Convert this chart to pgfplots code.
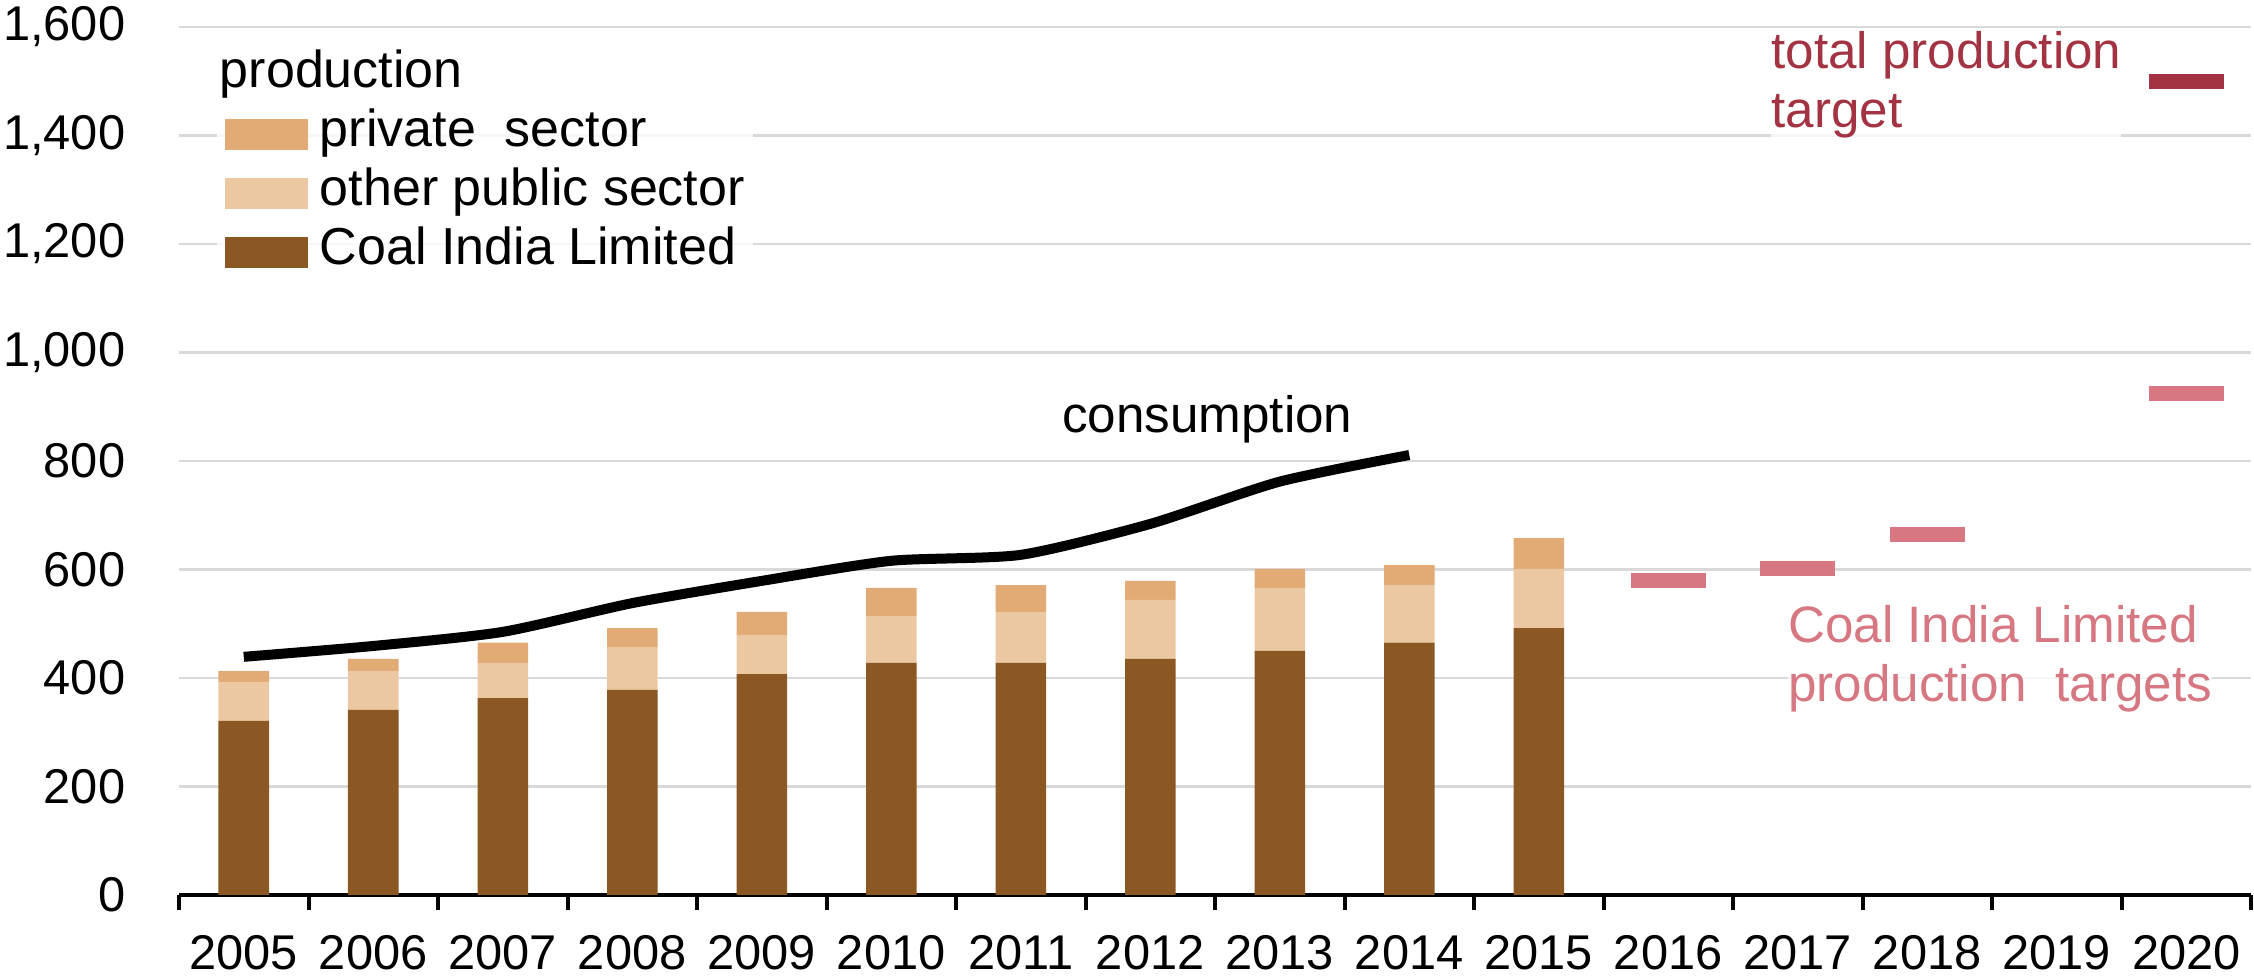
\documentclass[border=0pt]{standalone}
\usepackage{fontspec}
\setmainfont{Liberation Sans}
\usepackage{pgfplots}
\pgfplotsset{compat=1.18}
\definecolor{cil}{RGB}{139,87,34}
\definecolor{otherpub}{RGB}{235,199,162}
\definecolor{priv}{RGB}{226,171,118}
\definecolor{pinkt}{RGB}{214,119,130}
\definecolor{darkred}{RGB}{163,51,66}
\definecolor{gridgray}{RGB}{217,217,217}
\begin{document}
\begin{tikzpicture}[font=\fontsize{12.8pt}{14.75pt}\selectfont]
\begin{axis}[
  at={(0,0)}, anchor=south west,
  scale only axis, width=518pt, height=217pt,
  xmin=-0.5, xmax=15.5, ymin=0, ymax=1600,
  clip=false,
  axis line style={draw=none},
  ybar stacked, bar width=0.39,
  xtick={0,...,15},
  xticklabels={2005,2006,2007,2008,2009,2010,2011,2012,2013,2014,2015,2016,2017,2018,2019,2020},
  minor xtick={-0.5,0.5,...,15.5},
  xtick pos=bottom, ytick pos=left,
  tick align=outside,
  major tick length=0pt,
  minor tick length=3.75pt,
  minor tick style={black, line width=1pt},
  ytick={0,200,...,1600},
  ytick style={draw=none},
  ymajorgrids,
  grid style={gridgray, line width=0.6pt},
  tick label style={font=\fontsize{12.2pt}{14pt}\selectfont, black, inner sep=0pt},
  yticklabel style={xshift=-13.25pt},
  xticklabel style={yshift=-10pt},
  /pgf/number format/.cd, assume math mode=true, 1000 sep={,},
  /pgfplots/.cd,
  reverse legend,
  legend cell align=left,
  legend image code/.code={\fill[#1, fill opacity=1] (0pt,-3.9pt) rectangle (20.75pt,3.9pt);},
  legend style={at={(rel axis cs:0.0179,0.98)}, anchor=north west, draw=none,
    fill=white, fill opacity=0.8, text opacity=1, inner xsep=2pt, inner ysep=2pt,
    row sep=3.8pt, column sep=3pt,
    nodes={inner sep=0pt, text height=8.5pt, text depth=2.5pt},
    font=\fontsize{13pt}{14pt}\selectfont},
]
\addplot[fill=cil, draw=none] coordinates {(0,321) (1,341) (2,363) (3,378) (4,407) (5,428) (6,428) (7,435) (8,450) (9,465) (10,492)};
\addlegendentry{Coal India Limited}
\addplot[fill=otherpub, draw=none] coordinates {(0,72) (1,72) (2,65) (3,79) (4,72) (5,86) (6,94) (7,109) (8,116) (9,106) (10,109)};
\addlegendentry{other public sector}
\addplot[fill=priv, draw=none] coordinates {(0,20) (1,22) (2,37) (3,35) (4,43) (5,52) (6,49) (7,35) (8,35) (9,37) (10,57)};
\addlegendentry{private\ \ sector}
\addlegendimage{empty legend}
\addlegendentry{\hspace*{-25pt}production}

\addplot[stack plots=false, smooth, tension=0.4, line width=2.5pt, black, forget plot] coordinates {(0,439) (1,459) (2,485) (3,538) (4,579) (5,616) (6,627) (7,684) (8,762) (9,811)};

\addplot[stack plots=false, only marks, mark=-, mark size=9.4pt, mark options={line width=3.75pt, draw=pinkt}, forget plot] coordinates {(11,580) (12,601) (13,665) (15,925)};
\addplot[stack plots=false, only marks, mark=-, mark size=9.4pt, mark options={line width=3.75pt, draw=darkred}, forget plot] coordinates {(15,1500)};

\draw[line width=1.2pt] (rel axis cs:0,0) -- (rel axis cs:1,0);

\node[anchor=base] at (axis cs:7.44,852) {consumption};
\node[anchor=north west, inner sep=0pt, align=left, text=darkred, fill=white, fill opacity=0.75, text opacity=1] at (axis cs:11.79,1594) {total production\\target};
\node[anchor=north west, inner sep=0pt, align=left, text=pinkt, fill=white, fill opacity=0.75, text opacity=1] at (axis cs:11.92,536) {Coal India Limited\\production\ \ targets};
\end{axis}
\path (-44.75pt,-21.25pt) rectangle (518.75pt,223.75pt);
\end{tikzpicture}
\end{document}
